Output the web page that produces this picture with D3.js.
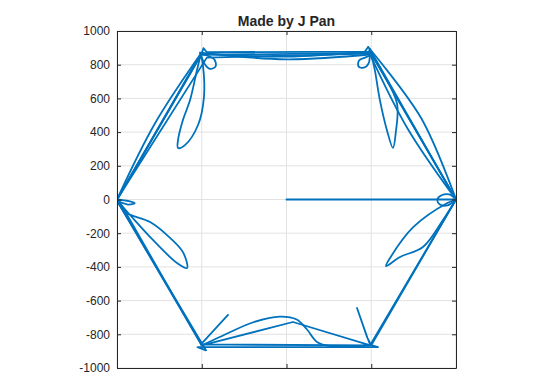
<!DOCTYPE html>
<html>
<head>
<meta charset="utf-8">
<script src="https://cdn.jsdelivr.net/npm/d3@7"></script>
<style>
  body { margin: 0; background: #fff; }
  text { font-family: "Liberation Sans", Arial, sans-serif; fill: #262626; }
</style>
</head>
<body>
<svg id="chart" width="554" height="373"></svg>
<script>
// tick values
var xTicks = [-1000, -500, 0, 500, 1000];
var yTicks = [-1000, -800, -600, -400, -200, 0, 200, 400, 600, 800, 1000];

// path pieces (x, y in data units).
// straight runs between the hexagon corners, and the curvy loops/lobes/bows
var run1    = [[0, 0], [1000, 0]];
var loopR   = [[1000, 0], [960, 30], [915, 25], [890, 0], [905, -30], [950, -35], [1000, 0]];
var run2    = [[1000, 0], [490, 895]];
var loopTR  = [[490, 895], [485, 810], [455, 782], [425, 790], [428, 825], [470, 845], [505, 862]];
var bowTop1 = [[505, 862], [0, 832], [-510, 872]];
var loopTL  = [[-510, 872], [-480, 800], [-450, 775], [-418, 790], [-425, 830], [-470, 855], [-505, 866]];
var run4    = [[-505, 866], [-1000, 0]];
var spikeL  = [[-1000, 0], [-930, -10], [-895, -22], [-935, -30], [-1000, -8]];
var run5    = [[-1000, -8], [-475, -895], [-525, -876], [540, -876], [495, -862], [1000, 0], [500, 866]];
var lobeTR  = [[500, 866], [522, 763], [551, 590], [593, 410], [628, 306], [645, 400], [652, 570], [570, 749], [495, 870]];
var run6    = [[495, 870], [-505, 858]];
var lobeTL  = [[-505, 858], [-493, 798], [-487, 608], [-522, 442], [-599, 323], [-640, 306], [-640, 353], [-611, 472], [-569, 590], [-528, 769], [-505, 866]];
var bowTL   = [[-505, 866], [-778, 448], [-1000, 0]];
var lobeLL  = [[-1000, 0], [-953, -74], [-805, -134], [-705, -211], [-611, -312], [-587, -407], [-646, -377], [-788, -240], [-923, -92], [-1000, -5]];
var run8    = [[-1000, -5], [-500, -866]];
var hump    = [[-500, -866], [-380, -810], [-200, -730], [-40, -695], [60, -712], [120, -770], [180, -845], [260, -870], [495, -866]];
var run9    = [[495, -866], [478, -822], [416, -644], [476, -818], [500, -866], [1000, 0]];
var lobeRL  = [[1000, 0], [949, -21], [749, -163], [611, -347], [587, -395], [670, -341], [805, -282], [923, -122], [1000, 0]];
var run10   = [[1000, 0], [500, 866], [-470, 842], [-1000, 0], [-500, 866], [-490, 898], [-470, 874], [462, 878], [482, 905]];
var bowTR   = [[482, 905], [795, 482], [1000, 0]];
var bowTR2  = [[1000, 0], [715, 420], [485, 878]];
var bowTop2 = [[485, 878], [0, 848], [-500, 866]];
var run11   = [[-500, 866], [-995, 5], [-500, -866], [38, -727], [495, -866], [-505, -860], [-345, -685]];

var pieces = [
  { pts: run1, smooth: false }, { pts: loopR, smooth: true }, { pts: run2, smooth: false },
  { pts: loopTR, smooth: true }, { pts: bowTop1, smooth: true }, { pts: loopTL, smooth: true },
  { pts: run4, smooth: false }, { pts: spikeL, smooth: true }, { pts: run5, smooth: false },
  { pts: lobeTR, smooth: true }, { pts: run6, smooth: false }, { pts: lobeTL, smooth: true },
  { pts: bowTL, smooth: true }, { pts: lobeLL, smooth: true }, { pts: run8, smooth: false },
  { pts: hump, smooth: true }, { pts: run9, smooth: false }, { pts: lobeRL, smooth: true },
  { pts: run10, smooth: false }, { pts: bowTR, smooth: true }, { pts: bowTR2, smooth: true },
  { pts: bowTop2, smooth: true }, { pts: run11, smooth: false }
];

var svg = d3.select("#chart");
var axL = 117, axR = 456, axT = 31, axB = 368;

var x = d3.scaleLinear().domain([-1000, 1000]).range([axL, axR]);
var y = d3.scaleLinear().domain([-1000, 1000]).range([axB, axT]);

// grid
var grid = svg.append("g");
grid.selectAll(".gx").data(xTicks).enter().append("line")
    .attr("x1", x).attr("x2", x).attr("y1", axT).attr("y2", axB)
    .attr("stroke", "#e2e2e2").attr("stroke-width", 1);
grid.selectAll(".gy").data(yTicks).enter().append("line")
    .attr("y1", y).attr("y2", y).attr("x1", axL).attr("x2", axR)
    .attr("stroke", "#e2e2e2").attr("stroke-width", 1);

// the trajectory
svg.append("clipPath").attr("id", "clip")
  .append("rect").attr("x", axL).attr("y", axT)
  .attr("width", axR - axL).attr("height", axB - axT);

var straight = d3.line()
    .x(function(d) { return x(d[0]); })
    .y(function(d) { return y(d[1]); });
var curvy = d3.line()
    .x(function(d) { return x(d[0]); })
    .y(function(d) { return y(d[1]); })
    .curve(d3.curveCatmullRom.alpha(0.5));

svg.append("g").attr("clip-path", "url(#clip)")
  .selectAll("path").data(pieces).enter().append("path")
    .attr("fill", "none")
    .attr("stroke", "#0072BD")
    .attr("stroke-width", 1.8)
    .attr("stroke-linejoin", "round")
    .attr("stroke-linecap", "round")
    .attr("d", function(d) { return d.smooth ? curvy(d.pts) : straight(d.pts); });

// axes, ticks point inward like matlab
function styleAxis(g) {
  g.select(".domain").attr("stroke", "#262626");
  g.selectAll(".tick line").attr("stroke", "#262626");
  g.selectAll("text").attr("font-size", 12).attr("fill", "#262626")
    .attr("font-family", "'Liberation Sans', Arial, sans-serif");
}
var plain = function(d) { return String(d); };

svg.append("g").attr("transform", "translate(" + axL + ",0)")
    .call(d3.axisLeft(y).tickValues(yTicks).tickFormat(plain).tickSizeInner(-4).tickSizeOuter(0).tickPadding(7))
    .call(styleAxis);
svg.append("g").attr("transform", "translate(" + axR + ",0)")
    .call(d3.axisRight(y).tickValues(yTicks).tickSizeInner(-4).tickSizeOuter(0).tickFormat(""))
    .call(styleAxis);
svg.append("g").attr("transform", "translate(0," + axB + ")")
    .call(d3.axisBottom(x).tickValues(xTicks).tickFormat(plain).tickSizeInner(-4).tickSizeOuter(0).tickPadding(7))
    .call(styleAxis);
svg.append("g").attr("transform", "translate(0," + axT + ")")
    .call(d3.axisTop(x).tickValues(xTicks).tickSizeInner(-4).tickSizeOuter(0).tickFormat(""))
    .call(styleAxis);

// title
svg.append("text")
    .attr("x", (axL + axR) / 2).attr("y", 26)
    .attr("text-anchor", "middle")
    .attr("font-size", 14).attr("font-weight", "bold")
    .attr("fill", "#000")
    .text("Made by J Pan");
</script>
</body>
</html>
